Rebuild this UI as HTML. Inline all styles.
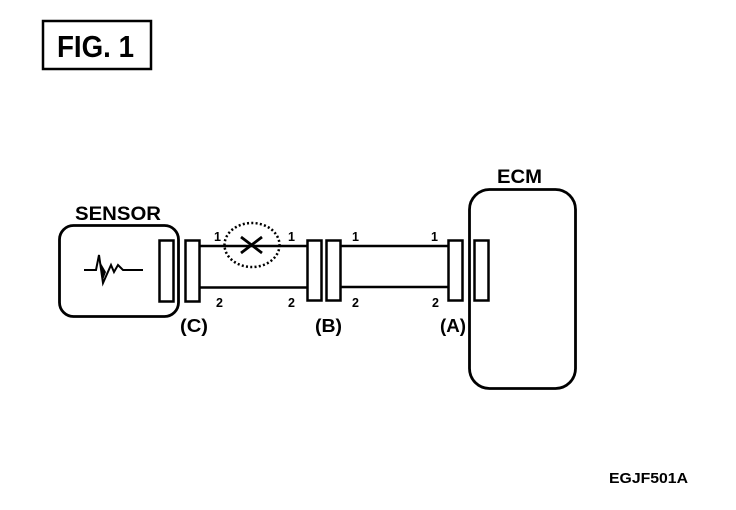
<!DOCTYPE html>
<html>
<head>
<meta charset="utf-8">
<style>
html,body{margin:0;padding:0;background:#fff;width:736px;height:510px;overflow:hidden}
svg{display:block}
text{font-family:"Liberation Sans",sans-serif;font-weight:bold;fill:#000}
</style>
</head>
<body>
<svg width="736" height="510" viewBox="0 0 736 510" xmlns="http://www.w3.org/2000/svg">
<g fill="none" stroke="#000">
  <rect x="43" y="21" width="108" height="48" stroke-width="2.5"/>
  <rect x="59.500" y="225.500" width="119" height="91" rx="14" stroke-width="2.800"/>
  <rect x="469.500" y="189.500" width="106" height="199" rx="20" stroke-width="2.800"/>
  <rect x="159.500" y="240.500" width="14" height="61" stroke-width="2.500"/>
  <rect x="185.500" y="240.500" width="14" height="61" stroke-width="2.500"/>
  <rect x="307.500" y="240.500" width="14" height="60" stroke-width="2.500"/>
  <rect x="326.500" y="240.500" width="14" height="60" stroke-width="2.500"/>
  <rect x="448.500" y="240.500" width="14" height="60" stroke-width="2.500"/>
  <rect x="474.500" y="240.500" width="14" height="60" stroke-width="2.500"/>
  <path d="M200 246H307M200 287.500H307M341 246H448M341 287H448" stroke-width="2.400"/>
  <ellipse cx="252" cy="245" rx="27.500" ry="22" stroke-width="2.500" stroke-dasharray="2 2.300"/>
  <path d="M241 237L262 253M262 237L241 253" stroke-width="2.800"/>
  <path d="M84 270H96L99 255L103 283L111 265L114 272L118 265L123 270H143" stroke-width="2"/>
  <path d="M99 260L103 280L106 272Z" fill="#000" stroke="none"/>
</g>
<text x="57" y="57" font-size="31" textLength="77" lengthAdjust="spacingAndGlyphs">FIG. 1</text>
<text x="75" y="220" font-size="19" textLength="86" lengthAdjust="spacingAndGlyphs">SENSOR</text>
<text x="497" y="183" font-size="19" textLength="45" lengthAdjust="spacingAndGlyphs">ECM</text>
<text x="180" y="332" font-size="18" textLength="28" lengthAdjust="spacingAndGlyphs">(C)</text>
<text x="315" y="332" font-size="18" textLength="27" lengthAdjust="spacingAndGlyphs">(B)</text>
<text x="440" y="332" font-size="18" textLength="26" lengthAdjust="spacingAndGlyphs">(A)</text>
<g font-size="12.500">
  <text x="214" y="241">1</text>
  <text x="288" y="241">1</text>
  <text x="352" y="241">1</text>
  <text x="431" y="241">1</text>
  <text x="216" y="307">2</text>
  <text x="288" y="307">2</text>
  <text x="352" y="307">2</text>
  <text x="432" y="307">2</text>
</g>
<text x="609" y="483" font-size="15" textLength="79" lengthAdjust="spacingAndGlyphs">EGJF501A</text>
</svg>
</body>
</html>
